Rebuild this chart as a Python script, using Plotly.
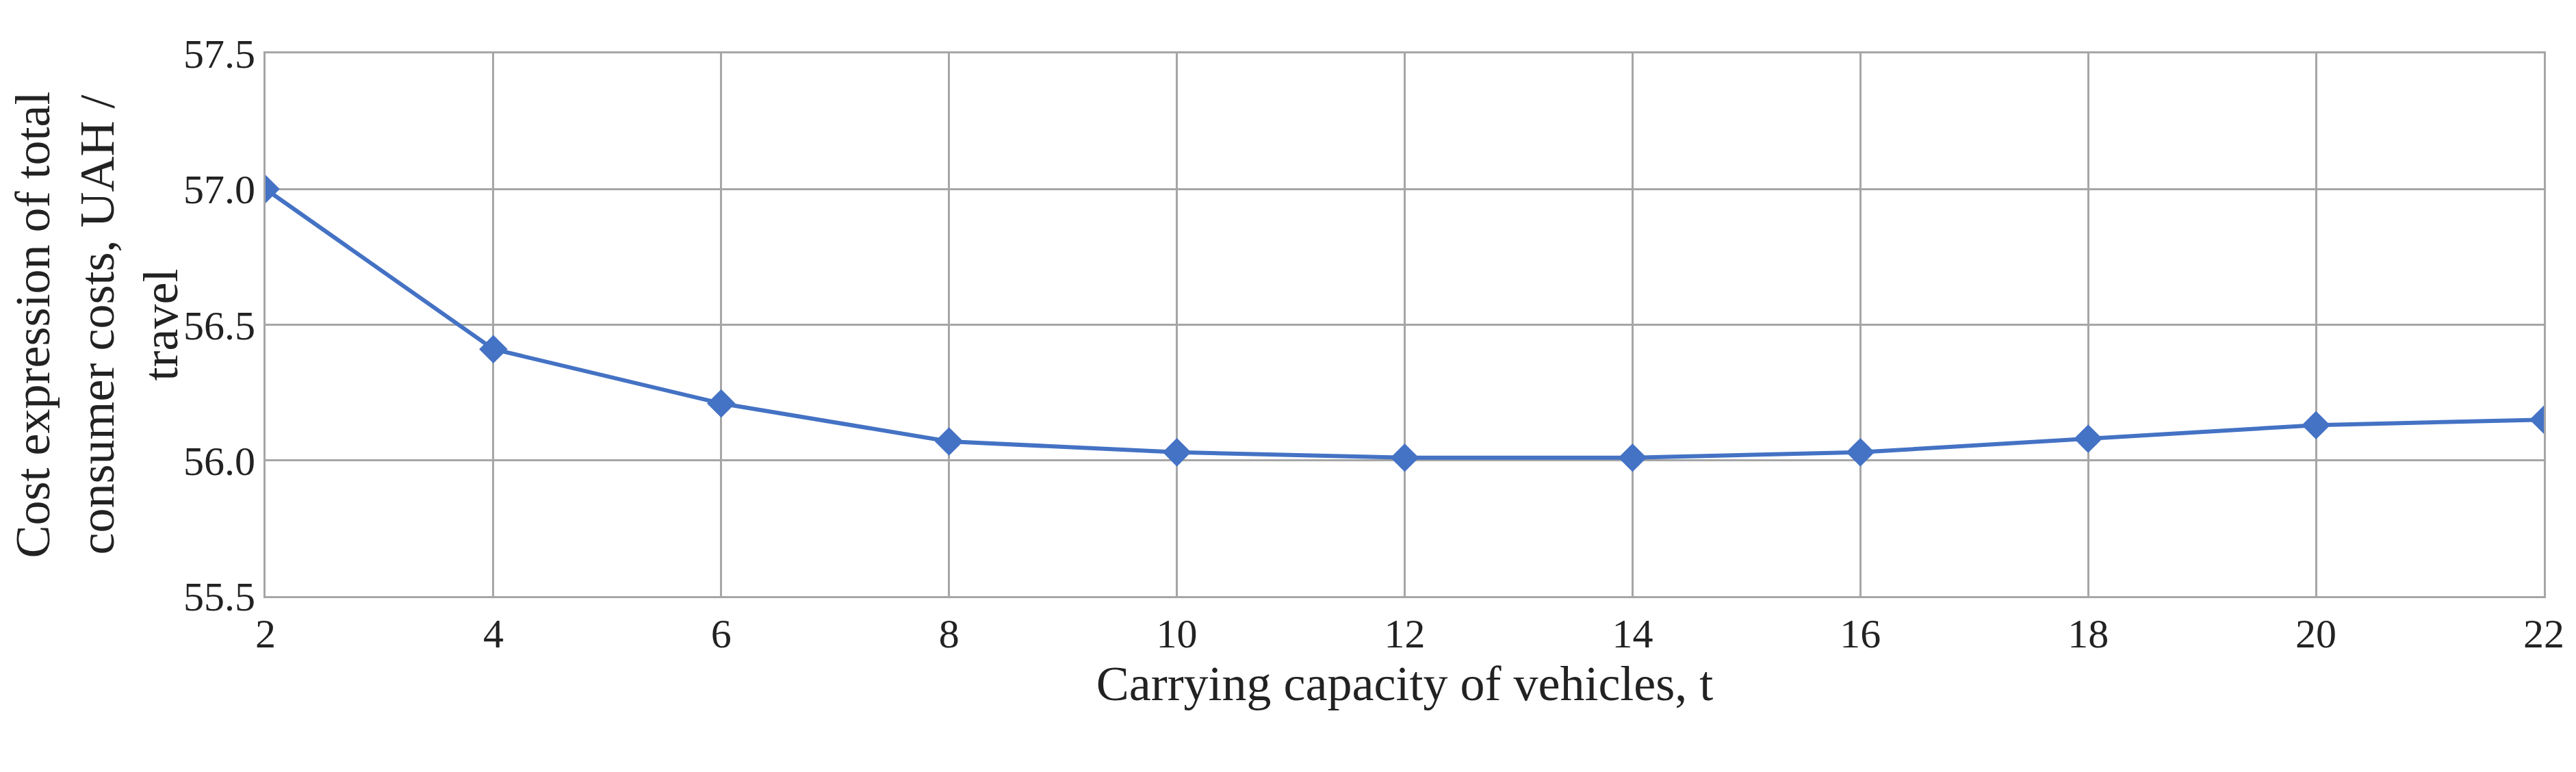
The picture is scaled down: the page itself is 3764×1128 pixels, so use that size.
"""
Consumer costs vs carrying capacity of vehicles.
"""

import plotly.graph_objects as go

CAPACITY = [2, 4, 6, 8, 10, 12, 14, 16, 18, 20, 22]
COST = [57.0, 56.41, 56.21, 56.07, 56.03, 56.01, 56.01, 56.03, 56.08, 56.13, 56.15]
Y_TICKS = [55.5, 56.0, 56.5, 57.0, 57.5]

FONT = "Liberation Serif"


def main():
    """main program"""
    fig = go.Figure(
        go.Scatter(
            x=CAPACITY,
            y=COST,
            mode="lines+markers",
            line=dict(color="#4472C4", width=6),
            marker=dict(symbol="diamond", size=32, color="#4472C4"),
        )
    )

    fig.update_layout(
        width=3764,
        height=1128,
        plot_bgcolor="white",
        paper_bgcolor="white",
        margin=dict(l=180, r=55, t=70, b=265),
        font=dict(family=FONT, size=60, color="#222222"),
        showlegend=False,
    )
    fig.update_xaxes(
        range=[2, 22],
        tickvals=CAPACITY,
        showgrid=True,
        gridcolor="#A6A6A6",
        gridwidth=3,
        zeroline=False,
        showline=True,
        linecolor="#A6A6A6",
        linewidth=3,
        mirror=True,
        ticks="",
        title=dict(text="Carrying capacity of vehicles, t", standoff=0),
    )
    fig.update_yaxes(
        range=[55.5, 57.5],
        tickvals=Y_TICKS,
        tickformat=".1f",
        showgrid=True,
        gridcolor="#A6A6A6",
        gridwidth=3,
        zeroline=False,
        showline=True,
        linecolor="#A6A6A6",
        linewidth=3,
        mirror=True,
        ticks="",
        title=dict(text="Cost expression of total<br>consumer costs, UAH /<br>travel",
                   standoff=10),
    )

    fig.write_html("out.html")


if __name__ == "__main__":
    main()
